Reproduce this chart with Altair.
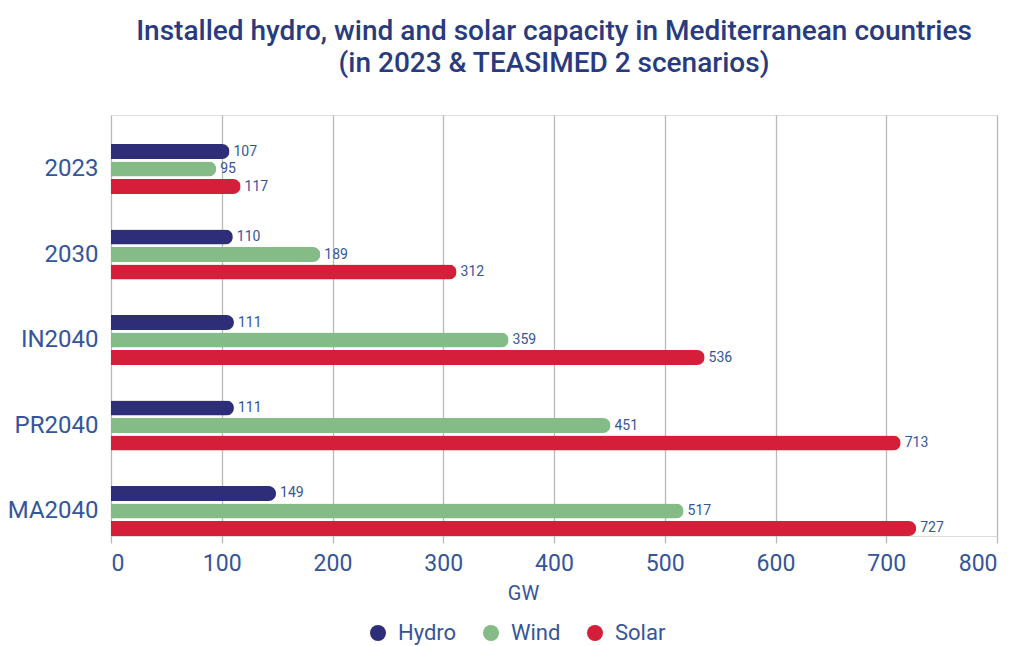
import altair as alt
import pandas as pd

# Installed capacity (GW) per scenario and technology
scenarios = ["2023", "2030", "IN2040", "PR2040", "MA2040"]
technologies = ["Hydro", "Wind", "Solar"]
hydro = [107, 110, 111, 111, 149]
wind = [95, 189, 359, 451, 517]
solar = [117, 312, 536, 713, 727]
tech_colors = ["#2e2d78", "#84bb86", "#d51f3a"]

rows = []
for tech, values in zip(technologies, [hydro, wind, solar]):
    for scen, v in zip(scenarios, values):
        rows.append({"scenario": scen, "tech": tech, "gw": v})
df = pd.DataFrame(rows)

TEXT_BLUE = "#35559a"
TITLE_BLUE = "#293b7f"
FONT = "Roboto"

y_enc = alt.Y(
    "scenario:N",
    sort=scenarios,
    title=None,
    # all outer padding goes above the first group; the last group sits on the axis
    scale=alt.Scale(paddingInner=0.415, paddingOuter=0.17, align=1),
    axis=alt.Axis(
        domain=False,
        ticks=False,
        labelFont=FONT,
        labelFontSize=24,
        labelColor=TEXT_BLUE,
        labelPadding=13,
    ),
)
yoff_enc = alt.YOffset(
    "tech:N",
    sort=technologies,
    scale=alt.Scale(paddingInner=0.143, paddingOuter=0),
)
x_enc = alt.X(
    "gw:Q",
    title="GW",
    scale=alt.Scale(domain=[0, 800], nice=False),
    axis=alt.Axis(
        values=[0, 100, 200, 300, 400, 500, 600, 700, 800],
        domain=False,
        grid=True,
        gridColor="#b9b9b9",
        gridWidth=1.3,
        tickColor="#b9b9b9",
        tickWidth=1.3,
        tickSize=7,
        labelFont=FONT,
        labelFontSize=23,
        labelColor=TEXT_BLUE,
        labelPadding=9,
        titleFont=FONT,
        titleFontSize=20,
        titleFontWeight="normal",
        titleColor=TEXT_BLUE,
        titleX=412,
        titleY=57,
        titleBaseline="middle",
        titleAnchor="start",
        titleAlign="center",
    ),
)
color_enc = alt.Color(
    "tech:N",
    sort=technologies,
    scale=alt.Scale(domain=technologies, range=tech_colors),
    legend=alt.Legend(
        title=None,
        orient="none",
        direction="horizontal",
        legendX=256,
        legendY=507,
        symbolType="circle",
        symbolSize=255,
        symbolStrokeWidth=0,
        symbolOpacity=1,
        labelFont=FONT,
        labelFontSize=22,
        labelColor=TEXT_BLUE,
        labelOffset=9,
        columnPadding=23,
    ),
)

bars = alt.Chart(df).mark_bar(cornerRadiusEnd=7.5, opacity=1).encode(
    x=x_enc, y=y_enc, yOffset=yoff_enc, color=color_enc
)

labels = alt.Chart(df).mark_text(
    align="left", baseline="middle", dx=4, font=FONT, fontSize=14, color=TEXT_BLUE
).encode(
    x="gw:Q",
    y=alt.Y("scenario:N", sort=scenarios),
    yOffset=alt.YOffset("tech:N", sort=technologies),
    text="gw:Q",
)

chart = (
    alt.layer(bars, labels)
    .properties(
        width=886,
        height=421,
        autosize=alt.AutoSizeParams(type="none"),
        padding={"left": 111, "top": 115, "right": 21, "bottom": 110},
        title=alt.Title(
            text=[
                "Installed hydro, wind and solar capacity in Mediterranean countries",
                "(in 2023 & TEASIMED 2 scenarios)",
            ],
            font=FONT,
            fontSize=28,
            fontWeight=500,
            color=TITLE_BLUE,
            lineHeight=32,
            anchor="middle",
            frame="group",
            offset=37,
        ),
    )
    .configure_view(stroke=None)
    .configure(background="white")
)

chart.save("out.html", embed_options={"renderer": "svg", "actions": False})
